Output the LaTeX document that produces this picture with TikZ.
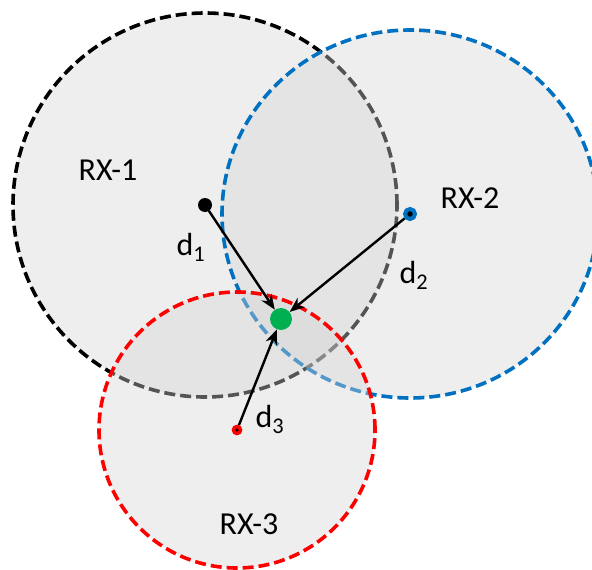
\documentclass[tikz,border=0pt]{standalone}
\usepackage{fontspec}
\setmainfont{Carlito}
\usetikzlibrary{arrows.meta}
\definecolor{rxblue}{HTML}{0070C0}
\definecolor{rxred}{HTML}{FF0000}
\definecolor{taggreen}{HTML}{00B050}
\begin{document}
\begin{tikzpicture}[x=1pt, y=-1pt,
    zone/.style = {fill=black!17, fill opacity=0.4, line width=3.6pt, dash pattern=on 11pt off 5pt},
    rx/.style = {circle, fill=black, inner sep=0pt, minimum size=10pt, line width=4pt},
    tag/.style = {circle, fill=taggreen, inner sep=0pt, minimum size=22pt},
    rng/.style = {-{Stealth[length=15pt, width=12pt]}, line width=2.4pt},
    lbl/.style = {font=\fontsize{32}{38}\selectfont}]

    \useasboundingbox (0,0) rectangle (592,570);

    % coverage zones
    \draw[zone, draw=black] (205,205) circle [radius=192pt];
    \draw[zone, draw=rxblue] (410,214) ellipse [x radius=188pt, y radius=184pt];
    \draw[zone, draw=rxred] (237,430) circle [radius=138pt];

    % receivers and tag
    \node[rx, minimum size=14pt, line width=0pt] (rx1) at (205,205) {};
    \node[rx, draw=rxblue] (rx2) at (410,214) {};
    \node[rx, draw=rxred, minimum size=7pt, line width=3.5pt] (rx3) at (237,430) {};
    \node[tag] (tag) at (281,319) {};

    \draw[rng] (rx1) -- (tag);
    \draw[rng] (rx2) -- (tag);
    \draw[rng] (rx3) -- (tag);

    % labels
    \node[lbl] (l1) at (108,170) {RX-1};
    \node[lbl] (l2) at (470,198) {RX-2};
    \node[lbl] (l3) at (249,524) {RX-3};
    \node[lbl] (d1) at (191,247) {d\textsubscript{1}};
    \node[lbl] (d2) at (414,275) {d\textsubscript{2}};
    \node[lbl] (d3) at (270,419) {d\textsubscript{3}};

\end{tikzpicture}
\end{document}
